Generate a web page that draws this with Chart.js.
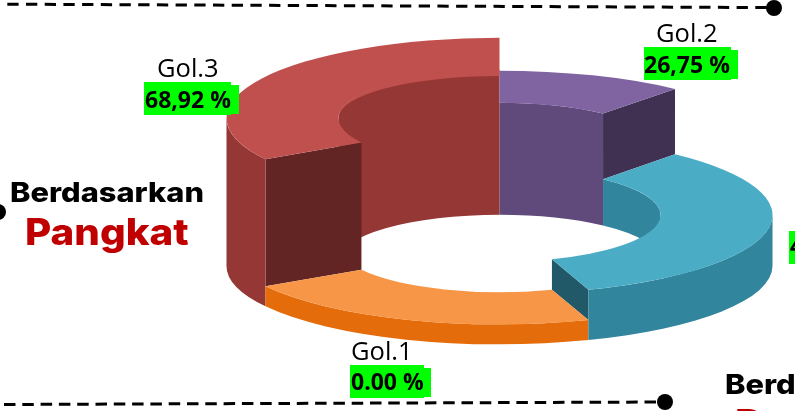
<!DOCTYPE html>
<html>
<head>
<meta charset="utf-8">
<style>
  html, body { margin: 0; padding: 0; background: #fff; overflow: hidden; }
  canvas { display: block; }
</style>
<script src="https://cdn.jsdelivr.net/npm/chart.js@4/dist/chart.umd.min.js"></script>
</head>
<body>
<canvas id="ringChart" width="795" height="411"></canvas>
<script>
const categories = ['Gol.2', 'Gol.4', 'Gol.1', 'Gol.3'];
const percentLabels = ['26,75 %', '4,33 %', '0.00 %', '68,92 %'];
// share of the ring each slice takes in the picture, in degrees
const sweep = [40, 121, 78, 121];
// how tall each slice stands
const levels = [117, 51, 20, 148];

const topColors = ['#8064a2', '#4bacc6', '#f79646', '#c0504d'];
const wallColors = ['#604a7b', '#31859c', '#e46c0a', '#953735'];
const endColors = ['#403152', '#215968', '#984807', '#632523'];

// the slices are not quite the same ellipse, the taller ones open up a bit
const squash = [0.287, 0.29, 0.287, 0.294];
const baseSquash = 0.287;
const baseY = 266;
const floorY = 261;
const paintOrder = [0, 3, 2, 1];

function wallPath(ctx, cx, r, from, to, topY, bottomY, kTop, kBottom) {
  ctx.beginPath();
  ctx.ellipse(cx, topY, r, r * kTop, 0, from, to);
  ctx.ellipse(cx, bottomY, r, r * kBottom, 0, to, from, true);
  ctx.closePath();
  ctx.fill();
}

// parts of an angle range that lie in [lo, hi], also one turn later
function overlap(a0, a1, lo, hi) {
  const out = [];
  [0, Math.PI * 2].forEach(function (shift) {
    const s = Math.max(a0, lo + shift);
    const e = Math.min(a1, hi + shift);
    if (e > s) out.push([s, e]);
  });
  return out;
}

function wideText(ctx, text, x, y, sx) {
  ctx.save();
  ctx.translate(x, y);
  ctx.scale(sx, 1);
  ctx.fillText(text, 0, 0);
  ctx.restore();
}

const ring3d = {
  id: 'ring3d',
  beforeDatasetsDraw(chart) {
    const ctx = chart.ctx;
    const arcs = chart.getDatasetMeta(0).data;
    const n = arcs.length;
    paintOrder.forEach(function (i) {
      const arc = arcs[i];
      const cx = arc.x;
      const a0 = arc.startAngle;
      const a1 = arc.endAngle;
      const rIn = arc.innerRadius;
      const rOut = arc.outerRadius;
      const topY = baseY - levels[i];
      const k = squash[i];

      // inner wall, back half only
      ctx.fillStyle = wallColors[i];
      overlap(a0, a1, -Math.PI, 0).forEach(function (p) {
        wallPath(ctx, cx, rIn, p[0], p[1], topY, floorY, k, baseSquash);
      });

      // end walls, down to the lower neighbour
      ctx.fillStyle = endColors[i];
      [[a0, (i + n - 1) % n], [a1, (i + 1) % n]].forEach(function (side) {
        const other = side[1];
        if (levels[other] >= levels[i]) return;
        const c = Math.cos(side[0]);
        const s = Math.sin(side[0]);
        const lowY = baseY - levels[other];
        const kLow = squash[other];
        ctx.beginPath();
        ctx.moveTo(cx + rIn * c, topY + rIn * k * s);
        ctx.lineTo(cx + rOut * c, topY + rOut * k * s);
        ctx.lineTo(cx + rOut * c, lowY + rOut * kLow * s);
        ctx.lineTo(cx + rIn * c, lowY + rIn * kLow * s);
        ctx.closePath();
        ctx.fill();
      });
    });

    paintOrder.forEach(function (i) {
      const arc = arcs[i];
      const topY = baseY - levels[i];
      const k = squash[i];
      // outer wall, front half only
      ctx.fillStyle = wallColors[i];
      overlap(arc.startAngle, arc.endAngle, 0, Math.PI).forEach(function (p) {
        wallPath(ctx, arc.x, arc.outerRadius, p[0], p[1], topY, baseY, k, baseSquash);
      });
      // top face is the library's own arc, squashed and lifted
      ctx.save();
      ctx.translate(arc.x, topY);
      ctx.scale(1, k);
      ctx.translate(-arc.x, -arc.y);
      arc.draw(ctx);
      ctx.restore();
    });

    // the tall slice has a flatter back edge on its hole
    const tall = arcs[3];
    ctx.fillStyle = topColors[3];
    ctx.beginPath();
    ctx.ellipse(tall.x, baseY - levels[3], tall.innerRadius, tall.innerRadius * squash[3] + 1, 0, Math.PI, Math.PI * 1.5);
    ctx.ellipse(tall.x, baseY - levels[3], tall.innerRadius, 42, 0, Math.PI * 1.5, Math.PI, true);
    ctx.closePath();
    ctx.fill();
    return false;
  },
  afterDraw(chart) {
    const ctx = chart.ctx;
    ctx.save();

    // dashed frame and dots
    ctx.strokeStyle = '#000';
    ctx.lineWidth = 3;
    ctx.setLineDash([11.3, 7.4]);
    ctx.beginPath();
    ctx.moveTo(7.3, 4.2);
    ctx.lineTo(770, 7.6);
    ctx.stroke();
    ctx.setLineDash([11.5, 6.8]);
    ctx.beginPath();
    ctx.moveTo(4, 404.5);
    ctx.lineTo(660, 402);
    ctx.stroke();
    ctx.setLineDash([]);
    ctx.fillStyle = '#000';
    [[774, 8], [665, 402], [-2, 212]].forEach(function (d) {
      ctx.beginPath();
      ctx.arc(d[0], d[1], 8, 0, Math.PI * 2);
      ctx.fill();
    });

    // green boxes behind the percentages
    ctx.fillStyle = '#00ff00';
    [[644, 47, 87, 33], [731, 50, 7, 29],
     [144, 82, 87, 33], [231, 85, 8, 29],
     [350, 365, 74, 33], [424, 368, 7, 29],
     [789, 231, 6, 33]].forEach(function (b) {
      ctx.fillRect(b[0], b[1], b[2], b[3]);
    });

    ctx.textAlign = 'left';
    ctx.textBaseline = 'alphabetic';
    ctx.fillStyle = '#000';
    ctx.font = '500 25.5px "Open Sans"';
    ctx.fillText(categories[0], 656, 42);
    ctx.fillText(categories[3], 157, 77);
    ctx.fillText(categories[2], 351, 360);
    ctx.font = 'bold 23px "Open Sans"';
    ctx.fillText(percentLabels[0], 644, 73);
    ctx.fillText(percentLabels[3], 145, 108);
    ctx.fillText(percentLabels[2], 351, 390);
    ctx.fillText(percentLabels[1], 790, 254);

    ctx.font = '800 27.5px Inter';
    wideText(ctx, 'Berdasarkan', 10, 202, 1.12);
    wideText(ctx, 'Berdasarkan', 725, 394, 1.12);
    ctx.fillStyle = '#c00000';
    ctx.font = '800 37px Inter';
    wideText(ctx, 'Pangkat', 25, 245, 1.09);
    wideText(ctx, 'Pendidikan', 735, 436, 1.09);
    ctx.restore();
  }
};

const ringChart = new Chart(document.getElementById('ringChart'), {
  type: 'doughnut',
  data: {
    labels: categories,
    datasets: [{
      data: sweep,
      backgroundColor: topColors,
      borderWidth: 0
    }]
  },
  options: {
    responsive: false,
    animation: false,
    radius: 273,
    cutout: '59%',
    layout: { padding: { left: 204 } },
    plugins: {
      legend: { display: false },
      tooltip: { enabled: false }
    }
  },
  plugins: [ring3d]
});
</script>
</body>
</html>
